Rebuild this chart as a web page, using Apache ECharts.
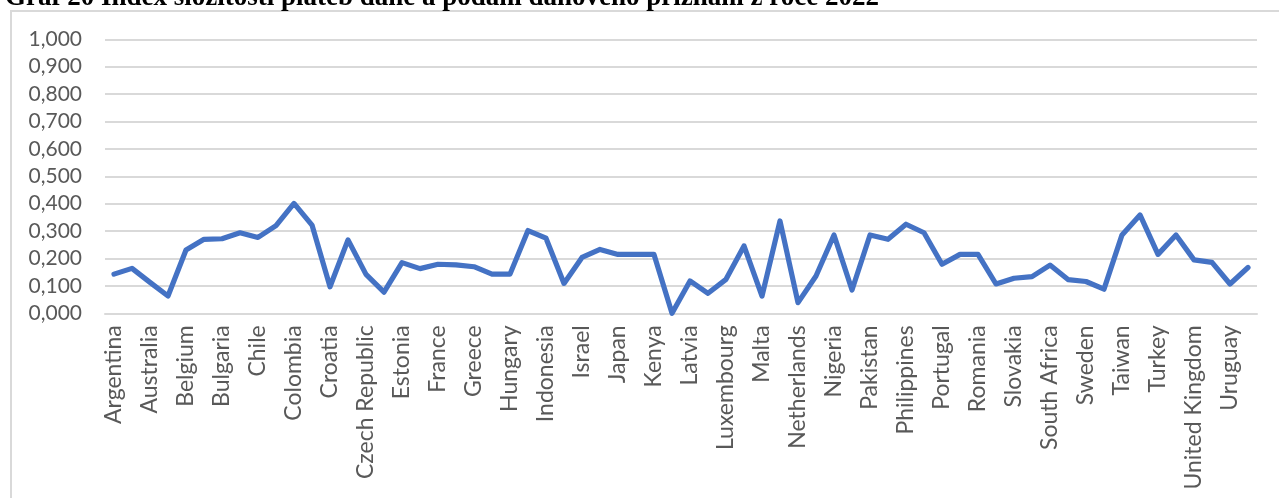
<!DOCTYPE html>
<html>
<head>
<meta charset="utf-8">
<script src="https://cdn.jsdelivr.net/npm/echarts@6/dist/echarts.min.js"></script>
<style>
  html, body { margin: 0; padding: 0; background: #ffffff; }
  #chart { width: 1279px; height: 498px; }
</style>
</head>
<body>
<div id="chart"></div>
<script>
// Countries in the comparison (every other name is shown on the axis)
const countries = [
  'Argentina', 'Armenia', 'Australia', 'Austria', 'Belgium', 'Brazil', 'Bulgaria', 'Canada',
  'Chile', 'China', 'Colombia', 'Costa Rica', 'Croatia', 'Cyprus', 'Czech Republic', 'Denmark',
  'Estonia', 'Finland', 'France', 'Germany', 'Greece', 'Hong Kong', 'Hungary', 'India',
  'Indonesia', 'Ireland', 'Israel', 'Italy', 'Japan', 'Kazakhstan', 'Kenya', 'Korea',
  'Latvia', 'Lithuania', 'Luxembourg', 'Malaysia', 'Malta', 'Mexico', 'Netherlands', 'New Zealand',
  'Nigeria', 'Norway', 'Pakistan', 'Peru', 'Philippines', 'Poland', 'Portugal', 'Qatar',
  'Romania', 'Russia', 'Slovakia', 'Slovenia', 'South Africa', 'Spain', 'Sweden', 'Switzerland',
  'Taiwan', 'Thailand', 'Turkey', 'Ukraine', 'United Kingdom', 'United States', 'Uruguay', 'Vietnam'
];

// Complexity index of tax payment and filing, 2022
const complexityIndex = [
  0.143, 0.164, 0.113, 0.063, 0.231, 0.270, 0.272, 0.294,
  0.277, 0.320, 0.401, 0.322, 0.097, 0.268, 0.142, 0.077,
  0.185, 0.163, 0.179, 0.177, 0.170, 0.143, 0.143, 0.302,
  0.274, 0.109, 0.204, 0.233, 0.215, 0.215, 0.215, 0.000,
  0.118, 0.073, 0.124, 0.246, 0.063, 0.337, 0.039, 0.136,
  0.286, 0.085, 0.286, 0.270, 0.325, 0.294, 0.179, 0.215,
  0.215, 0.107, 0.128, 0.134, 0.176, 0.123, 0.116, 0.088,
  0.286, 0.359, 0.215, 0.286, 0.195, 0.186, 0.107, 0.167
];

const yTicks = { min: 0, max: 1, step: 0.1 };
const titleText = 'Graf 20 Index složitosti plateb daně a podání daňového přiznání z roce 2022';

const chart = echarts.init(document.getElementById('chart'), null, { renderer: 'canvas' });

const labelFont = 'Lato';
const gridColor = '#d9d9d9';
const textColor = '#595959';

chart.setOption({
  animation: false,
  backgroundColor: '#ffffff',
  title: {
    text: titleText,
    left: 5,
    top: -15,
    padding: 0,
    textStyle: {
      fontFamily: 'Liberation Serif',
      fontWeight: 'bold',
      fontSize: 27,
      color: '#000000'
    }
  },
  graphic: [{
    type: 'rect',
    silent: true,
    z: -10,
    shape: { x: 11, y: 11, width: 1400, height: 700 },
    style: { fill: 'none', stroke: gridColor, lineWidth: 2 }
  }],
  grid: {
    left: 105,
    right: 22,
    top: 39.3,
    bottom: 184.7,
    containLabel: false
  },
  xAxis: {
    type: 'category',
    data: countries,
    boundaryGap: true,
    axisLine: { show: true, lineStyle: { color: gridColor, width: 2 } },
    axisTick: { show: false },
    axisLabel: {
      interval: 1,
      rotate: 90,
      margin: 12,
      color: textColor,
      fontFamily: labelFont,
      fontSize: 23
    },
    splitLine: { show: false }
  },
  yAxis: {
    type: 'value',
    min: yTicks.min,
    max: yTicks.max,
    interval: yTicks.step,
    axisLine: { show: false },
    axisTick: { show: false },
    axisLabel: {
      margin: 23,
      color: textColor,
      fontFamily: labelFont,
      fontSize: 21,
      formatter: v => v.toFixed(3).replace('.', ',')
    },
    splitLine: { show: true, lineStyle: { color: gridColor, width: 2 } }
  },
  series: [{
    type: 'line',
    data: complexityIndex,
    showSymbol: false,
    symbol: 'none',
    lineStyle: { color: '#4472C4', width: 5.2, join: 'round', cap: 'round' },
    z: 5
  }]
});
</script>
</body>
</html>
